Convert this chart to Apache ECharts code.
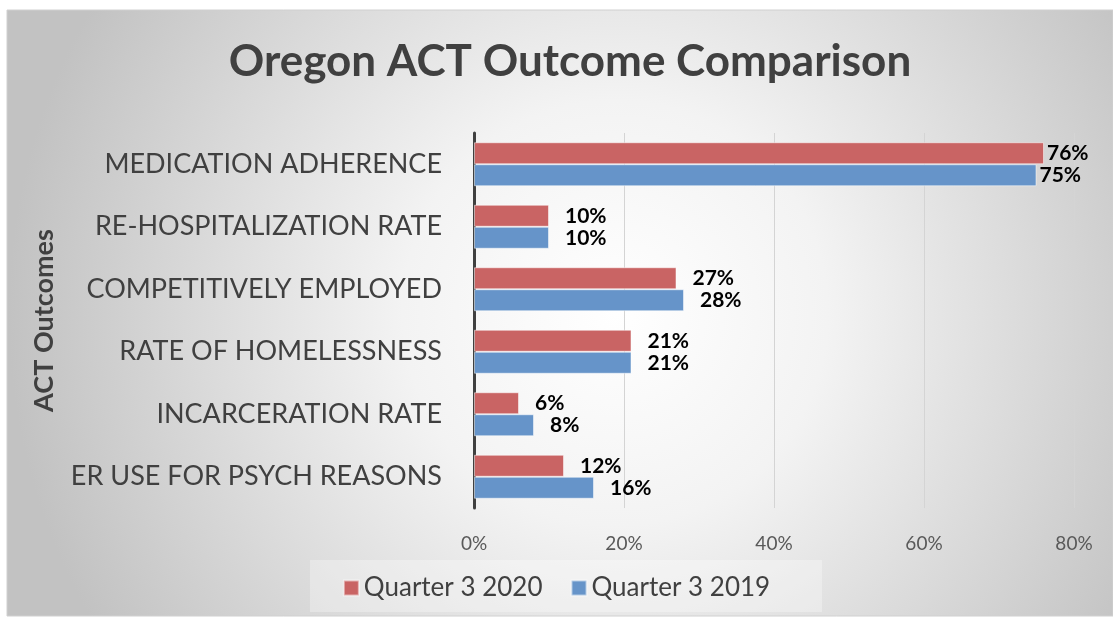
<!DOCTYPE html>
<html>
<head>
<meta charset="utf-8">
<script src="https://cdn.jsdelivr.net/npm/echarts@6/dist/echarts.min.js"></script>
<style>
  html, body { margin: 0; padding: 0; background: #fff; }
  #chart { width: 1113px; height: 623px; }
</style>
</head>
<body>
<div id="chart"></div>
<script>
// outcome categories, top to bottom as shown
const categories = [
    'MEDICATION ADHERENCE',
    'RE-HOSPITALIZATION RATE',
    'COMPETITIVELY EMPLOYED',
    'RATE OF HOMELESSNESS',
    'INCARCERATION RATE',
    'ER USE FOR PSYCH REASONS'
]
const q3_2020 = [76, 10, 27, 21, 6, 12]
const q3_2019 = [75, 10, 28, 21, 8, 16]
const xTicks = [0, 20, 40, 60, 80]

const chart = echarts.init(document.getElementById('chart'))

// labels near the right edge get pulled in, like the original
const withLabels = arr => arr.map(v => (v > 70 ? { value: v, label: { distance: 3 } } : v))

const labelStyle = {
    show: true,
    position: 'right',
    distance: 16,
    formatter: '{c}%',
    fontFamily: 'Lato',
    fontWeight: 'bold',
    fontSize: 21,
    color: '#000'
}

const option = {
    backgroundColor: '#fff',
    graphic: [
        {
            type: 'rect',
            z: -10,
            silent: true,
            shape: { x: 7, y: 10, width: 1106, height: 606 },
            style: {
                fill: {
                    type: 'radial',
                    x: 0.55, y: 0.5, r: 1.0,
                    colorStops: [
                        { offset: 0, color: '#ffffff' },
                        { offset: 0.35, color: '#f3f3f3' },
                        { offset: 1, color: '#c2c2c2' }
                    ]
                },
                stroke: '#d0d0d0',
                lineWidth: 1
            }
        },
        {
            // lighter box behind the legend
            type: 'rect',
            z: -9,
            silent: true,
            shape: { x: 310, y: 560, width: 512, height: 52 },
            style: { fill: 'rgba(255,255,255,0.3)' }
        }
    ],
    title: {
        text: 'Oregon ACT Outcome Comparison',
        left: 565,
        textAlign: 'center',
        top: 35,
        textStyle: {
            fontFamily: 'Lato',
            fontWeight: 'bold',
            fontSize: 44,
            color: '#404040'
        }
    },
    legend: {
        data: ['Quarter 3 2020', 'Quarter 3 2019'],
        left: 'center',
        top: 570,
        itemWidth: 15,
        itemHeight: 15,
        itemGap: 28,
        icon: 'rect',
        textStyle: {
            fontFamily: 'Lato',
            fontSize: 26,
            color: '#404040'
        }
    },
    grid: {
        left: 474,
        right: 39,
        top: 133,
        bottom: 115,
        containLabel: false
    },
    xAxis: {
        type: 'value',
        min: xTicks[0],
        max: xTicks[xTicks.length - 1],
        interval: 20,
        axisLine: { show: false },
        axisTick: { show: false },
        splitLine: { lineStyle: { color: '#d4d4d4', width: 1 } },
        axisLabel: {
            formatter: '{value}%',
            fontFamily: 'Lato',
            fontSize: 19,
            color: '#595959',
            margin: 26
        }
    },
    yAxis: {
        type: 'category',
        data: categories,
        inverse: true,
        name: 'ACT Outcomes',
        nameLocation: 'middle',
        nameGap: 416,
        nameRotate: 90,
        nameTextStyle: {
            fontFamily: 'Lato',
            fontWeight: 'bold',
            fontSize: 27,
            color: '#404040'
        },
        axisLine: { lineStyle: { color: '#404040', width: 3 } },
        axisTick: { show: false },
        axisLabel: {
            fontFamily: 'Lato',
            fontSize: 27,
            color: '#404040',
            margin: 32
        }
    },
    series: [
        {
            name: 'Quarter 3 2020',
            type: 'bar',
            data: withLabels(q3_2020),
            barWidth: 22,
            barGap: '0%',
            itemStyle: { color: '#c96464', borderColor: 'rgba(255,255,255,0.5)', borderWidth: 1 },
            label: labelStyle
        },
        {
            name: 'Quarter 3 2019',
            type: 'bar',
            data: withLabels(q3_2019),
            barWidth: 22,
            barGap: '0%',
            itemStyle: { color: '#6694c9', borderColor: 'rgba(255,255,255,0.5)', borderWidth: 1 },
            label: labelStyle
        }
    ]
}

chart.setOption(option)
</script>
</body>
</html>
